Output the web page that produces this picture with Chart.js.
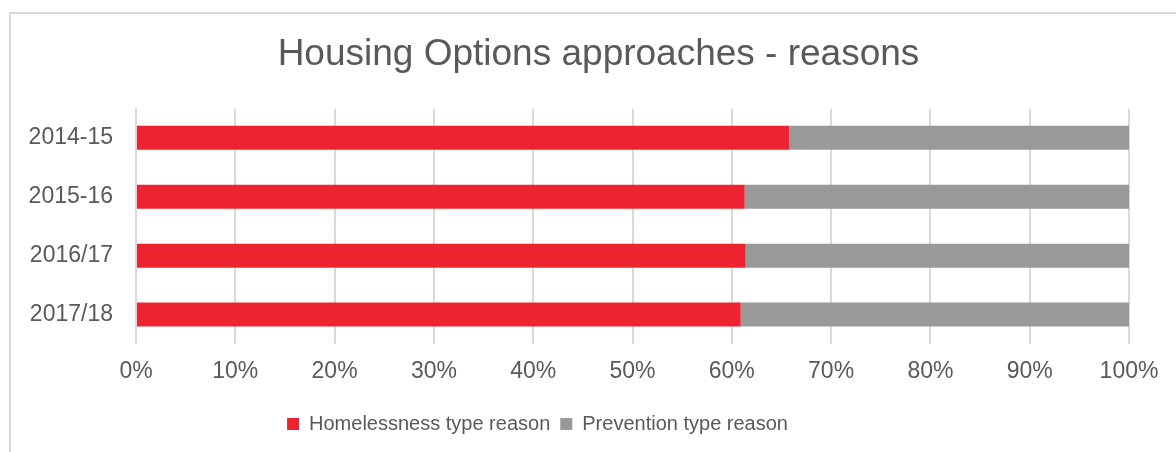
<!DOCTYPE html>
<html>
<head>
<meta charset="utf-8">
<script src="https://cdn.jsdelivr.net/npm/chart.js@4.4.1/dist/chart.umd.min.js"></script>
<style>
  html, body { margin: 0; padding: 0; background: #fff; overflow: hidden; }
  .frame { position: absolute; left: 9px; top: 12px; width: 1300px; height: 600px;
           border-left: 2px solid #d9d9d9; border-top: 2px solid #d9d9d9; }
  .wrap { position: absolute; left: 0; top: 0; width: 1176px; height: 452px; }
</style>
</head>
<body>
<div class="frame"></div>
<div class="wrap"><canvas id="c" width="1176" height="452"></canvas></div>
<script>
const YEARS = ['2014-15', '2015-16', '2016/17', '2017/18'];
const HOMELESSNESS = [65.8, 61.3, 61.4, 60.9];
const PREVENTION = [34.2, 38.7, 38.6, 39.1];
const X_TICKS = [0, 10, 20, 30, 40, 50, 60, 70, 80, 90, 100];

const FONT = '"Liberation Sans", Arial, sans-serif';
const TEXT = '#595959';

// nudge title / legend sideways, like the original's off-centre layout
const shiftBoxes = {
  id: 'shiftBoxes',
  afterLayout(chart) {
    const t = chart.titleBlock;
    if (t) { t.left += 34; t.right += 34; }
    const l = chart.legend;
    if (l) { l.left -= 27; l.right -= 27; }
  },
};

new Chart(document.getElementById('c'), {
  type: 'bar',
  data: {
    labels: YEARS,
    datasets: [
      { label: 'Homelessness type reason', data: HOMELESSNESS, backgroundColor: '#ED2430' },
      { label: 'Prevention type reason', data: PREVENTION, backgroundColor: '#999999' },
    ],
  },
  options: {
    indexAxis: 'y',
    responsive: false,
    animation: false,
    layout: { padding: { left: 0, right: 47, top: 0, bottom: 8 } },
    datasets: { bar: { categoryPercentage: 1, barPercentage: 0.408, borderWidth: 0 } },
    scales: {
      x: {
        stacked: true,
        min: 0,
        max: 100,
        afterBuildTicks: (scale) => { scale.ticks = X_TICKS.map((value) => ({ value })); },
        afterFit: (scale) => { scale.height = 60; },
        grid: { color: '#d9d9d9', lineWidth: 2, drawTicks: false },
        border: { display: false },
        ticks: { color: TEXT, font: { family: FONT, size: 23 }, padding: 14, callback: (v) => v + '%' },
      },
      y: {
        stacked: true,
        afterFit: (scale) => { scale.width = 136; },
        grid: { display: false, drawTicks: false },
        border: { display: false },
        ticks: { color: TEXT, font: { family: FONT, size: 23 }, padding: 23 },
      },
    },
    plugins: {
      title: {
        display: true,
        text: 'Housing Options approaches - reasons',
        color: TEXT,
        font: { family: FONT, size: 37, weight: 'normal' },
        padding: { top: 33, bottom: 31 },
      },
      legend: {
        position: 'bottom',
        labels: { color: TEXT, font: { family: FONT, size: 20 }, boxWidth: 12, boxHeight: 12, padding: 10 },
      },
      tooltip: { enabled: false },
    },
  },
  plugins: [shiftBoxes],
});
</script>
</body>
</html>
